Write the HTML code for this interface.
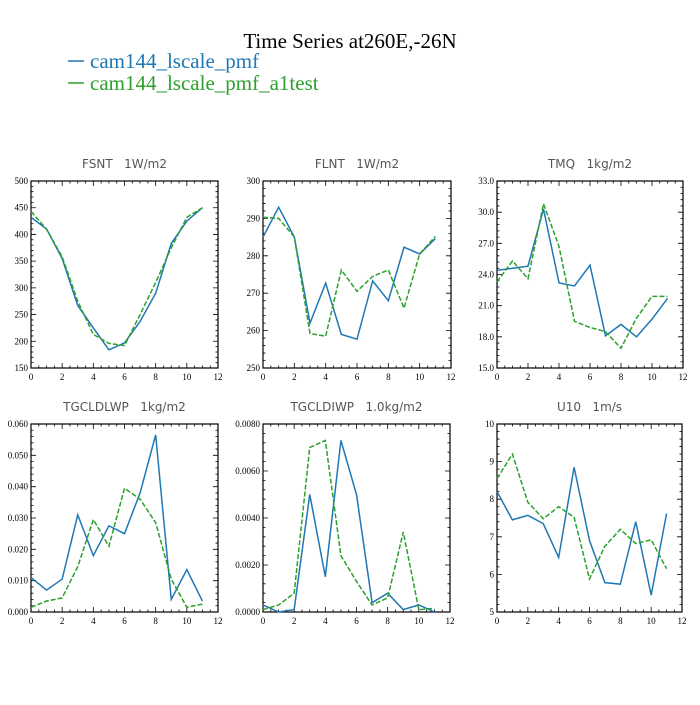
<!DOCTYPE html>
<html><head><meta charset="utf-8"><style>
body{margin:0;background:#fff;width:700px;height:700px;overflow:hidden}
svg text{font-family:"Liberation Serif",serif;white-space:pre}
</style></head><body>
<svg id="s" width="700" height="700" xmlns="http://www.w3.org/2000/svg">
<text x="350" y="48" text-anchor="middle" font-size="21">Time Series at260E,-26N</text>
<g>
<line x1="68" y1="61" x2="84" y2="61" stroke="#1f77b4" stroke-width="1.5"/>
<text x="90" y="68" font-size="21" fill="#1f77b4">cam144_lscale_pmf</text>
<line x1="68" y1="83" x2="84" y2="83" stroke="#2ca02c" stroke-width="1.5"/>
<text x="90" y="90" font-size="21" fill="#2ca02c">cam144_lscale_pmf_a1test</text>
</g>
</svg>
<script>
const months=[0,1,2,3,4,5,6,7,8,9,10,11];
const xTicks=[0,2,4,6,8,10,12];
const fsntA=[432,410,355,267,225,184,197,237,290,383,425,450];
const fsntB=[443,410,358,275,213,196,192,250,310,375,432,450];
const flntA=[285,293,285,262,272.7,259,257.7,273.3,268,282.3,280.5,284.6];
const flntB=[290.3,290,285,259.2,258.5,276.2,270.5,274.5,276.2,266,280.5,285.2];
const tmqA=[24.4,24.6,24.8,30.3,23.2,22.9,24.9,18.1,19.2,18.0,19.7,21.7];
const tmqB=[23.3,25.3,23.6,30.8,26.7,19.5,18.9,18.5,16.9,19.8,21.9,21.9];
const lwpA=[0.011,0.007,0.0105,0.031,0.018,0.0275,0.025,0.038,0.0565,0.004,0.0135,0.0035];
const lwpB=[0.0015,0.0035,0.0045,0.0145,0.0295,0.021,0.0395,0.036,0.0285,0.0105,0.0015,0.0025];
const iwpA=[0.0003,0,0.0001,0.0050,0.0015,0.0073,0.0050,0.0004,0.0008,0.0001,0.0003,0];
const iwpB=[0.0001,0.0003,0.0008,0.0070,0.0073,0.0024,0.0013,0.0003,0.0006,0.0034,0.0001,0.00015];
const u10A=[8.2,7.45,7.57,7.35,6.45,8.85,6.9,5.78,5.74,7.4,5.45,7.62];
const u10B=[8.55,9.2,7.92,7.48,7.8,7.52,5.88,6.75,7.2,6.82,6.92,6.15];
const fsntTicks=["150","200","250","300","350","400","450","500"];
const flntTicks=["250","260","270","280","290","300"];
const tmqTicks=["15.0","18.0","21.0","24.0","27.0","30.0","33.0"];
const lwpTicks=["0.000","0.010","0.020","0.030","0.040","0.050","0.060"];
const iwpTicks=["0.0000","0.0020","0.0040","0.0060","0.0080"];
const u10Ticks=["5","6","7","8","9","10"];
const panels=[
 {name:"fsnt",title:"FSNT   1W/m2",L:31,R:218,T:181,B:368,ticks:fsntTicks,a:fsntA,b:fsntB},
 {name:"flnt",title:"FLNT   1W/m2",L:263,R:451,T:181,B:368,ticks:flntTicks,a:flntA,b:flntB},
 {name:"tmq",title:"TMQ   1kg/m2",L:497,R:683,T:181,B:368,ticks:tmqTicks,a:tmqA,b:tmqB},
 {name:"tgcldlwp",title:"TGCLDLWP   1kg/m2",L:31,R:218,T:424,B:612,ticks:lwpTicks,a:lwpA,b:lwpB},
 {name:"tgcldiwp",title:"TGCLDIWP   1.0kg/m2",L:263,R:450,T:424,B:612,ticks:iwpTicks,a:iwpA,b:iwpB},
 {name:"u10",title:"U10   1m/s",L:497,R:682,T:424,B:612,ticks:u10Ticks,a:u10A,b:u10B}
];
const NS="http://www.w3.org/2000/svg";const svg=document.getElementById('s');
function mk(t,at,p){const e=document.createElementNS(NS,t);for(const k in at)e.setAttribute(k,at[k]);p.appendChild(e);return e;}
panels.forEach(p=>{
 const g=mk('g',{},svg);
 
 
 const ymin=parseFloat(p.ticks[0]),ymax=parseFloat(p.ticks[p.ticks.length-1]);
 const sx=v=>p.L+(v-0)/12*(p.R-p.L);
 const sy=v=>p.B-(v-ymin)/(ymax-ymin)*(p.B-p.T);
 const t=mk('text',{x:(p.L+p.R)/2,y:p.T-13,'text-anchor':'middle','font-size':'12',fill:'#555',style:'font-family:"DejaVu Sans",sans-serif;white-space:pre'},g);
 t.textContent=p.title;
 
 
 let d='';
 for(let v=0;v<=12;v+=0.5){const x=sx(v),len=(v%2===0)?5:2.5;d+=`M${x},${p.B}v${-len}M${x},${p.T}v${len}`;}
 const n=p.ticks.length-1;
 for(let i=0;i<=n*5;i++){const y=p.B-i/(n*5)*(p.B-p.T),len=(i%5===0)?5:2.5;d+=`M${p.L},${y}h${len}M${p.R},${y}h${-len}`;}
 const tk=mk('path',{d:d,stroke:'#000','stroke-width':'0.8',fill:'none'},g);
 
 
 const fr=mk('rect',{x:p.L,y:p.T,width:p.R-p.L,height:p.B-p.T,fill:'none',stroke:'#000','stroke-width':'1.2'},g);
 
 
 xTicks.forEach(v=>{const e=mk('text',{x:sx(v),y:p.B+12,'text-anchor':'middle','font-size':'9'},g);e.textContent=v;
  
  });
 p.ticks.forEach(s=>{const e=mk('text',{x:p.L-3,y:sy(parseFloat(s))+3,'text-anchor':'end','font-size':'9'},g);e.textContent=s;
  
  });
 [[p.a,'#1f77b4','','pmf'],[p.b,'#2ca02c','5,2','a1test']].forEach(([arr,c,da,nm])=>{
  const pts=arr.map((v,i)=>sx(months[i])+','+sy(v)).join(' ');
  const l=mk('polyline',{points:pts,fill:'none',stroke:c,'stroke-width':'1.5','stroke-dasharray':da},g);
  
  
 });
});
</script>
</body></html>
